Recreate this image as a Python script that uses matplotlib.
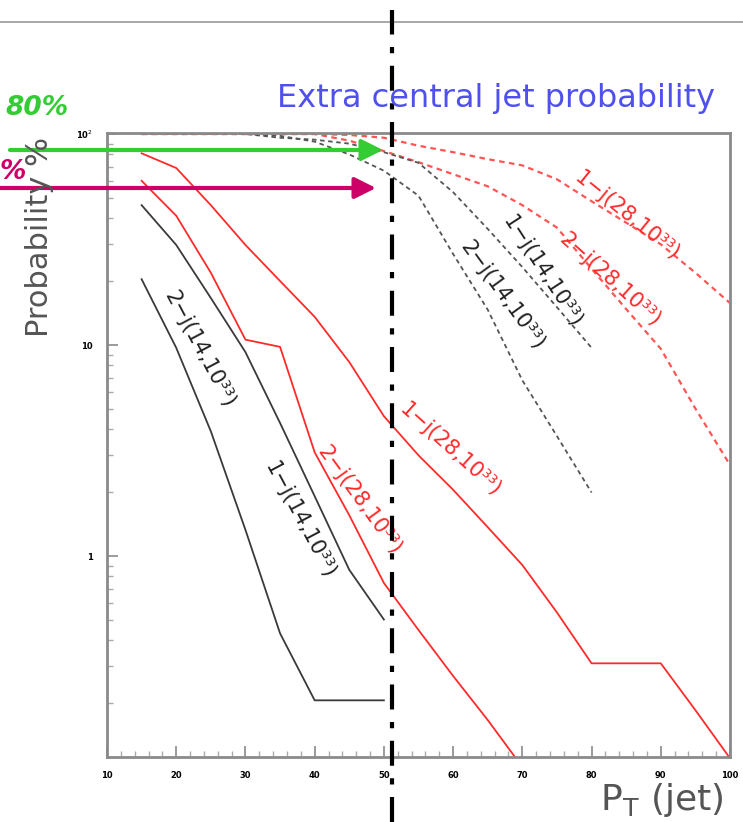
import numpy as np
import matplotlib
matplotlib.use("Agg")
import matplotlib.pyplot as plt
from matplotlib.ticker import FixedLocator, FixedFormatter, LogLocator, NullFormatter

# ---- data ----
x_red_solid_1 = [15, 20, 25, 30, 35, 40, 45, 50, 55, 60, 65, 70, 75, 80, 85, 90, 95, 100]
y_red_solid_1 = [81, 69, 46, 29.8, 20.1, 13.6, 8.3, 4.6, 3.0, 2.06, 1.37, 0.906, 0.54, 0.31, 0.31, 0.31, 0.186, 0.11]

x_red_solid_2 = [15, 20, 25, 30, 35, 40, 45, 50, 55, 60, 65, 70]
y_red_solid_2 = [60, 41, 22, 10.6, 9.8, 3.1, 1.56, 0.745, 0.446, 0.27, 0.167, 0.10]

x_red_dot_1 = [15, 20, 25, 30, 35, 40, 45, 50, 55, 60, 65, 70, 75, 80, 85, 90, 95, 100]
y_red_dot_1 = [100, 100, 100, 100, 100, 100, 99, 96, 88, 82, 76, 71, 61, 48, 38, 30, 22, 15.8]

x_red_dot_2 = [15, 20, 25, 30, 35, 40, 45, 50, 55, 60, 65, 70, 75, 80, 85, 90, 95, 100]
y_red_dot_2 = [100, 100, 100, 100, 100, 100, 93, 83, 73.5, 64.5, 56.5, 46, 36, 23, 14.8, 9.6, 5.0, 2.7]

x_blk_dot_1 = [15, 20, 25, 30, 35, 40, 45, 50, 55, 60, 65, 70, 75, 80]
y_blk_dot_1 = [100, 100, 100, 100, 96, 94, 90, 82, 73, 53, 35.5, 23.4, 15.1, 9.7]

x_blk_dot_2 = [15, 20, 25, 30, 35, 40, 45, 50, 55, 60, 65, 70, 75, 80]
y_blk_dot_2 = [100, 100, 100, 100, 98, 92, 80, 67, 51, 27, 14.7, 6.8, 3.7, 2.0]

x_blk_solid_1 = [15, 20, 25, 30, 35, 40, 45, 50]
y_blk_solid_1 = [46, 29.8, 16.7, 9.25, 4.27, 1.92, 0.86, 0.50]

x_blk_solid_2 = [15, 20, 25, 30, 35, 40, 45, 50]
y_blk_solid_2 = [20.5, 9.7, 3.9, 1.33, 0.43, 0.207, 0.207, 0.207]

x_ticks = [10, 20, 30, 40, 50, 60, 70, 80, 90, 100]
x_ticklabels = ["10", "20", "30", "40", "50", "60", "70", "80", "90", "100"]
y_ticks = [1, 10, 100]
y_ticklabels = ["1", "10", "10$^{2}$"]

labels = ["1\u2212j(28,10\u00b3\u00b3)", "2\u2212j(28,10\u00b3\u00b3)",
          "1\u2212j(14,10\u00b3\u00b3)", "2\u2212j(14,10\u00b3\u00b3)"]

W, H = 743, 822
fig = plt.figure(figsize=(W / 100, H / 100), dpi=100)
fig.patch.set_facecolor("white")

L, R, T, B = 107, 730, 133, 757
ax = fig.add_axes([L / W, 1 - B / H, (R - L) / W, (B - T) / H])
ax.set_xlim(10, 100)
ax.set_yscale("log")
ax.set_ylim(10 ** (-201 / 211), 10 ** (2 + 1 / 211))

red = "#ff2a2a"
red_l = "#ff5555"
gry = "#3a3a3a"
gry_l = "#555555"

ax.plot(x_red_solid_1, y_red_solid_1, color=red, lw=1.3)
ax.plot(x_red_solid_2, y_red_solid_2, color=red, lw=1.3)
ax.plot(x_red_dot_1, y_red_dot_1, color=red_l, lw=1.6, ls=(0, (2.5, 2)))
ax.plot(x_red_dot_2, y_red_dot_2, color=red_l, lw=1.6, ls=(0, (2.5, 2)))
ax.plot(x_blk_dot_1, y_blk_dot_1, color=gry_l, lw=1.3, ls=(0, (2.5, 2)))
ax.plot(x_blk_dot_2, y_blk_dot_2, color=gry_l, lw=1.3, ls=(0, (2.5, 2)))
ax.plot(x_blk_solid_1, y_blk_solid_1, color=gry, lw=1.3)
ax.plot(x_blk_solid_2, y_blk_solid_2, color=gry, lw=1.3)

# axis styling
for sp in ax.spines.values():
    sp.set_color("#8a8a8a")
    sp.set_linewidth(2)
ax.xaxis.set_major_locator(FixedLocator(x_ticks))
ax.xaxis.set_major_formatter(FixedFormatter(x_ticklabels))
ax.xaxis.set_minor_locator(FixedLocator(np.arange(10, 100, 2)))
ax.yaxis.set_major_locator(FixedLocator(y_ticks))
ax.yaxis.set_major_formatter(FixedFormatter(y_ticklabels))
ax.yaxis.set_minor_locator(LogLocator(base=10, subs=np.arange(2, 10), numticks=20))
ax.yaxis.set_minor_formatter(NullFormatter())
ax.tick_params(axis="both", which="major", direction="in", length=8, width=1.2,
               color="#8a8a8a", labelsize=6, pad=10)
ax.tick_params(axis="both", which="minor", direction="in", length=4, width=1.0,
               color="#aaaaaa")
for t in ax.get_xticklabels() + ax.get_yticklabels():
    t.set_fontweight("bold")

# curve labels (data coords)
txt = dict(fontsize=15, ha="center", va="center", rotation_mode="anchor")
ax.text(85.1, 41, labels[0], color=red, rotation=-39, **txt)
ax.text(82.7, 20.3, labels[1], color=red, rotation=-42, **txt)
ax.text(72.8, 22.2, labels[2], color="#222222", rotation=-57, **txt)
ax.text(67.1, 17.2, labels[3], color="#222222", rotation=-54, **txt)
ax.text(59.6, 3.18, labels[0], color=red, rotation=-42, **txt)
ax.text(46.5, 1.84, labels[1], color=red, rotation=-54, **txt)
ax.text(23.4, 9.5, labels[3], color="#222222", rotation=-62, **txt)
ax.text(37.9, 1.48, labels[2], color="#222222", rotation=-62, **txt)

# title and axis labels
fig.text(496 / W, 1 - 98 / H, "Extra central jet probability", color="#5050f0",
         fontsize=23, ha="center", va="center")
fig.text(40 / W, 1 - 237 / H, "Probability %", color="#555555", fontsize=22,
         rotation=90, ha="center", va="center")
fig.text(662 / W, 1 - 800 / H, "P$_{\\mathregular{T}}$ (jet)", color="#555555",
         fontsize=26, ha="center", va="center")

# slide decorations
fig.add_artist(plt.Line2D([0, 1], [1 - 22 / H, 1 - 22 / H], color="#999999", lw=1.2))
fig.add_artist(plt.Line2D([392 / W, 392 / W], [0, 1 - 10 / H], color="black", lw=3,
                          ls=(0, (6, 3, 1.5, 3))))
ax.annotate("", xy=(383 / W, 1 - 150 / H), xytext=(10 / W, 1 - 150 / H),
            xycoords="figure fraction", textcoords="figure fraction",
            arrowprops=dict(arrowstyle="-|>", color="#33cc33", lw=3, mutation_scale=32,
                            shrinkA=0, shrinkB=0))
ax.annotate("", xy=(376 / W, 1 - 188 / H), xytext=(0 / W, 1 - 188 / H),
            xycoords="figure fraction", textcoords="figure fraction",
            arrowprops=dict(arrowstyle="-|>", color="#cc0066", lw=3, mutation_scale=32,
                            shrinkA=0, shrinkB=0))
fig.text(5 / W, 1 - 108 / H, "80%", color="#33cc33", fontsize=19, fontweight="bold",
         style="italic", ha="left", va="center")
fig.text(0 / W, 1 - 172 / H, "%", color="#cc0066", fontsize=19, fontweight="bold",
         style="italic", ha="left", va="center")

fig.savefig("out.png", dpi=100, facecolor="white")
